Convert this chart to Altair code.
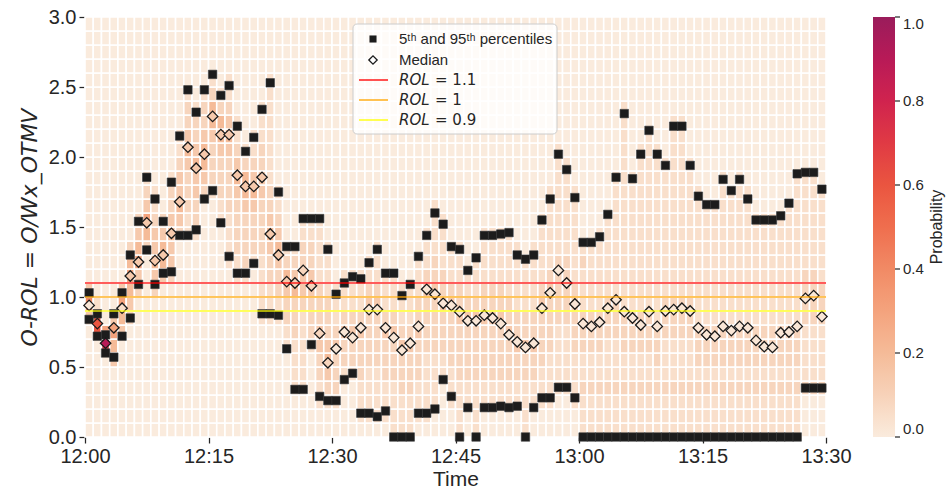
import altair as alt
import pandas as pd

# ---------------- data ----------------
x_tick_values = [0, 15, 30, 45, 60, 75, 90]
x_tick_labels = ["12:00", "12:15", "12:30", "12:45", "13:00", "13:15", "13:30"]
y_tick_values = [0.0, 0.5, 1.0, 1.5, 2.0, 2.5, 3.0]
colorbar_ticks = [0.0, 0.2, 0.4, 0.6, 0.8, 1.0]

p95 = [1.03, 0.88, 0.73, 0.88, 1.03, 1.30, 1.54, 1.855, 1.70, 1.54,
       1.82, 2.15, 2.48, 2.32, 2.48, 2.59, 2.44, 2.51, 2.22, 2.04,
       2.14, 2.34, 2.53, 1.75, 1.36, 1.36, 1.56, 1.56, 1.56, 1.34,
       1.02, 1.10, 1.145, 1.13, 1.245, 1.34, 1.17, 1.17, 1.01, 1.09,
       1.29, 1.44, 1.60, 1.52, 1.36, 1.34, 1.19, 1.28, 1.44, 1.44,
       1.45, 1.46, 1.30, 1.27, 1.30, 1.55, 1.70, 2.02, 1.91, 1.71,
       1.39, 1.39, 1.43, 1.59, 1.855, 2.31, 1.845, 2.02, 2.19, 2.02,
       1.94, 2.22, 2.22, 1.94, 1.72, 1.66, 1.66, 1.84, 1.76, 1.84,
       1.70, 1.55, 1.55, 1.55, 1.58, 1.67, 1.88, 1.89, 1.89, 1.77]

p5 = [0.84, 0.72, 0.60, 0.57, 0.72, 0.85, 1.09, 1.336, 1.09, 1.17,
      1.18, 1.44, 1.44, 1.48, 1.70, 1.76, 1.53, 1.29, 1.17, 1.17,
      1.24, 0.88, 0.88, 0.87, 0.63, 0.34, 0.34, 0.66, 0.29, 0.26,
      0.26, 0.41, 0.455, 0.17, 0.17, 0.145, 0.186, 0.0, 0.0, 0.0,
      0.17, 0.17, 0.20, 0.41, 0.29, 0.0, 0.21, 0.0, 0.21, 0.21,
      0.22, 0.21, 0.22, 0.0, 0.21, 0.28, 0.28, 0.355, 0.355, 0.28,
      0.0, 0.0, 0.0, 0.0, 0.0, 0.0, 0.0, 0.0, 0.0, 0.0,
      0.0, 0.0, 0.0, 0.0, 0.0, 0.0, 0.0, 0.0, 0.0, 0.0,
      0.0, 0.0, 0.0, 0.0, 0.0, 0.0, 0.0, 0.35, 0.35, 0.35]

median = [0.94, 0.81, 0.67, 0.78, 0.92, 1.15, 1.25, 1.53, 1.26, 1.30,
          1.455, 1.68, 2.07, 1.92, 2.02, 2.29, 2.16, 2.16, 1.87, 1.79,
          1.79, 1.855, 1.45, 1.30, 1.11, 1.10, 1.19, 1.08, 0.74, 0.53,
          0.63, 0.75, 0.71, 0.78, 0.91, 0.91, 0.78, 0.71, 0.62, 0.67,
          0.79, 1.055, 1.02, 0.955, 0.94, 0.895, 0.83, 0.83, 0.87, 0.85,
          0.81, 0.73, 0.68, 0.64, 0.67, 0.92, 1.03, 1.19, 1.10, 0.95,
          0.81, 0.79, 0.82, 0.92, 0.98, 0.895, 0.85, 0.80, 0.895, 0.79,
          0.90, 0.91, 0.92, 0.90, 0.78, 0.73, 0.72, 0.79, 0.76, 0.79,
          0.78, 0.69, 0.645, 0.64, 0.745, 0.75, 0.79, 0.99, 1.01, 0.86]

# probability level of each median marker's face (one character per minute)
median_fill = ("18a6244444" "4444444444" "4444433333" "1111111111" "1111111111"
               "1111111111" "1111111111" "1111111111" "1111111111")

# probability heat map: for every minute, first 0.1-bin that is shaded and the
# shade level of the following bins (levels are looked up in level_prob)
heat_start = [8, 7, 6, 5, 7, 8, 10, 13, 10, 11,
              11, 14, 14, 14, 17, 17, 15, 12, 11, 11,
              12, 8, 8, 8, 6, 3, 3, 6, 2, 2,
              2, 4, 4, 1, 1, 1, 1, 0, 0, 0,
              1, 1, 2, 4, 2, 0, 2, 0, 2, 2,
              2, 2, 2, 0, 2, 2, 2, 3, 3, 2,
              0, 0, 0, 0, 0, 0, 0, 0, 0, 0,
              0, 0, 0, 0, 0, 0, 0, 0, 0, 0,
              0, 0, 0, 0, 0, 0, 0, 3, 3, 3]

heat_cells = [
    "474", "882", "96", "4564", "4564", "345653", "346543", "356432", "34544322", "45543",
    "34454332", "34544322", "22333454332", "2334454332", "34554332", "233345532", "2233345532",
    "22223333454322", "223333454322", "2333345532",
    "2333454322", "2222233334433222", "222334543322222222", "2233454322", "22334532",
    "22223335432", "2222223443322", "2333443322", "22334433322222", "234543332222",
    "233343222", "23343222", "23343222", "22233343222", "222233334322",
    "2222333343222", "22233343222", "222233343222", "22233343222", "22233343222",
    "222333433222", "22222333343222", "222233334332222", "223334332222", "222333343222",
    "22223333433222", "2233334322", "2222333343222", "2233334332222", "2233334332222",
    "2233334332222", "2233343322222", "223343322222", "2222334332222", "223343322222",
    "22233334322222", "2222333343222222", "222223333322222222", "22222333332222222", "2222333332222222",
    "22232233322232", "22232233322222", "222322333222222", "2223222333222222", "2223222333222222222",
    "222322333222222222222222", "2223223332222222222", "222322333222222222222",
    "2223223332222222222222", "222323332222222222222",
    "22232223332222222222", "22232223332222222222222", "22232223332222222222222",
    "22232223332222222222", "222323332222222222",
    "22232333222222222", "22232333222222222", "2223233322222222222", "222323332222222222",
    "2223233322222222222",
    "222323332222222222", "2223233322222222", "2223233322222222", "2223233322222222",
    "2223233322222222", "22232333222222222", "2223233322222222222",
    "3222233332222222", "3222233332222222", "322223332222222",
]

level_prob = {"0": 0.0, "1": 0.02, "2": 0.05, "3": 0.09, "4": 0.14, "5": 0.2,
              "6": 0.3, "7": 0.4, "8": 0.6, "9": 0.72, "a": 0.9}

rol_values = [1.1, 1.0, 0.9]
rol_colors = ["#ff0000", "#ffa500", "#ffff00"]
rol_labels = ["= 1.1", "= 1", "= 0.9"]

cmap_colors = ["#faebdd", "#f7d2b9", "#f5bb98", "#f4a37d", "#f18a65", "#ef6e4e",
               "#ea5540", "#e03a44", "#d0234e", "#b81a57", "#9a1c5b"]

# ---------------- tables ----------------
n_min = len(p95)
n_bins = 30
heat_rows = []
for i in range(n_min):
    cells = heat_cells[i]
    for r in range(n_bins):
        k = r - heat_start[i]
        ch = cells[k] if 0 <= k < len(cells) else "0"
        heat_rows.append({"t0": i, "t1": i + 1, "v0": r / 10, "v1": (r + 1) / 10,
                          "prob": level_prob[ch]})
heat_df = pd.DataFrame(heat_rows)

pct_df = pd.DataFrame({"t": [i + 0.5 for i in range(n_min)] * 2, "value": p5 + p95})
med_df = pd.DataFrame({"t": [i + 0.5 for i in range(n_min)], "value": median,
                       "prob": [level_prob[c] for c in median_fill]})
rol_df = pd.DataFrame({"value": rol_values, "color": rol_colors})
cb_df = pd.DataFrame({"p": colorbar_ticks})
one = pd.DataFrame({"a": [0]})

# ---------------- chart ----------------
FONT = "Liberation Sans"
MATH = "DejaVu Sans"
INK = "#262626"

label_expr = "[" + ",".join("'%s'" % s for s in x_tick_labels) + "][round(datum.value/15)]"
x_scale = alt.Scale(domain=[0, 90], nice=False, zero=False)
y_scale = alt.Scale(domain=[0, 3], nice=False, zero=False)
color_scale = alt.Scale(domain=[0, 1], range=cmap_colors, interpolate="rgb")

heat = alt.Chart(heat_df).mark_rect(stroke="white", strokeWidth=1.6).encode(
    x=alt.X("t0:Q", scale=x_scale,
            axis=alt.Axis(values=x_tick_values, labelExpr=label_expr, title="Time",
                          titlePadding=2, labelFlush=False)),
    x2="t1:Q",
    y=alt.Y("v0:Q", scale=y_scale,
            axis=alt.Axis(values=y_tick_values, format=".1f", title="O-ROL = O/Wx_OTMV",
                          titleFont=MATH, titleFontStyle="italic", titleFontSize=22,
                          titlePadding=7, labelFlush=False)),
    y2="v1:Q",
    color=alt.Color("prob:Q", scale=color_scale,
                    legend=alt.Legend(orient="none", legendX=788, legendY=0,
                                      direction="vertical", title=None,
                                      gradientLength=420, gradientThickness=22,
                                      gradientStrokeWidth=0, values=colorbar_ticks,
                                      format=".1f", labelFontSize=15, labelFont=FONT,
                                      labelColor=INK, labelOffset=8,
                                      labelBaseline="middle")),
)

squares = alt.Chart(pct_df).mark_point(shape="square", filled=True, size=72, color="#1c1c1c",
                                       stroke="#3a3a3a", strokeWidth=0.6, opacity=1).encode(
    x="t:Q", y="value:Q")

diamonds = alt.Chart(med_df).mark_point(shape="diamond", filled=True, size=110,
                                        stroke="#1a1a1a", strokeWidth=1.3, opacity=1).encode(
    x="t:Q", y="value:Q", color=alt.Color("prob:Q", scale=color_scale, legend=None))

rules = alt.Chart(rol_df).mark_rule(strokeWidth=1.6, opacity=0.85).encode(
    y="value:Q", stroke=alt.Stroke("color:N", scale=None))

cbticks = alt.Chart(cb_df).transform_calculate(ypos="datum.p * 3").mark_rule(
    color=INK, strokeWidth=1.2).encode(y="ypos:Q", x=alt.value(810), x2=alt.value(815))

prob_title = alt.Chart(one).mark_text(text="Probability", angle=270, fontSize=16, font=FONT,
                                      color=INK, align="center", baseline="middle").encode(
    x=alt.value(852), y=alt.value(210))

# legend box
leg_box = alt.Chart(one).mark_rect(fill="white", fillOpacity=0.8, stroke="#cccccc",
                                   strokeWidth=1, cornerRadius=4).encode(
    x=alt.value(268), x2=alt.value(472), y=alt.value(7), y2=alt.value(117))
leg_sq = alt.Chart(one).mark_point(shape="square", filled=True, size=50, color="#1c1c1c",
                                   opacity=1).encode(x=alt.value(288), y=alt.value(22))
leg_dm = alt.Chart(one).mark_point(shape="diamond", filled=True, size=70, fill="white",
                                   stroke="#1a1a1a", strokeWidth=1.3, opacity=1).encode(
    x=alt.value(288), y=alt.value(43))
leg_t1 = alt.Chart(one).mark_text(text="5ᵗʰ and 95ᵗʰ percentiles", fontSize=15, font=FONT,
                                  color=INK, align="left", baseline="middle").encode(
    x=alt.value(314), y=alt.value(22))
leg_t2 = alt.Chart(one).mark_text(text="Median", fontSize=15, font=FONT, color=INK,
                                  align="left", baseline="middle").encode(
    x=alt.value(314), y=alt.value(43))
leg_layers = [leg_box, leg_sq, leg_dm, leg_t1, leg_t2]
for k, (c, lab) in enumerate(zip(rol_colors, rol_labels)):
    yy = 63 + 20 * k
    leg_layers.append(alt.Chart(one).mark_rule(color=c, strokeWidth=1.6, opacity=0.85).encode(
        x=alt.value(274), x2=alt.value(303), y=alt.value(yy)))
    leg_layers.append(alt.Chart(one).mark_text(text="ROL", fontSize=15, font=MATH,
                                               fontStyle="italic", color=INK, align="left",
                                               baseline="middle").encode(
        x=alt.value(314), y=alt.value(yy)))
    leg_layers.append(alt.Chart(one).mark_text(text=lab, fontSize=15, font=MATH, color=INK,
                                               align="left", baseline="middle").encode(
        x=alt.value(350), y=alt.value(yy)))

chart = alt.layer(heat, squares, diamonds, rules, cbticks, prob_title, *leg_layers).properties(
    width=741, height=420, autosize="none",
    padding={"left": 85, "top": 17, "right": 125, "bottom": 53},
).configure_view(stroke=None).configure_axis(
    labelFont=FONT, labelFontSize=20, labelColor=INK, titleFont=FONT, titleFontSize=21,
    titleColor=INK, titleFontWeight="normal", tickColor=INK, tickWidth=1.25, tickSize=6,
    labelPadding=3, domain=False, grid=False,
).configure_legend(gradientVerticalMaxLength=420)

chart.save("out.html", embed_options={"renderer": "svg", "actions": False})
